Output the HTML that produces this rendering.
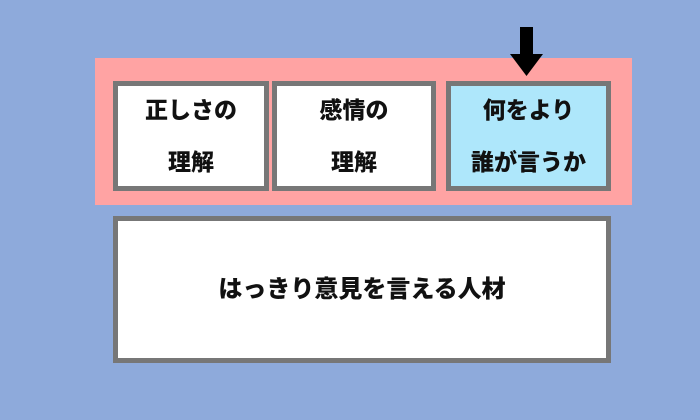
<!DOCTYPE html>
<html><head><meta charset="utf-8"><style>
body{margin:0;width:700px;height:420px;background:#8eaadb;position:relative;overflow:hidden;font-family:"Liberation Sans","Noto Sans CJK JP",sans-serif;font-weight:900;color:#111}
.pink{position:absolute;left:95px;top:58px;width:537px;height:147px;background:#ffa3a3}
.b{position:absolute;box-sizing:border-box;border:5px solid #777;background:#fff;display:flex;align-items:center;justify-content:center;text-align:center;font-size:23px;line-height:52px}
</style></head><body>
<div class="pink"></div>
<div class="b" style="left:113px;top:81px;width:156px;height:110px">正しさの<br>理解</div>
<div class="b" style="left:272px;top:81px;width:164px;height:110px">感情の<br>理解</div>
<div class="b" style="left:446px;top:81px;width:165px;height:110px;background:#aee7fb">何をより<br>誰が言うか</div>
<div class="b" style="left:113px;top:216px;width:498px;height:147px;font-size:24px">はっきり意見を言える人材</div>
<svg style="position:absolute;left:0;top:0" width="700" height="420"><rect x="520" y="27" width="13" height="28" fill="#000"/><polygon points="510,54 543,54 526.5,76" fill="#000"/></svg>
</body></html>
